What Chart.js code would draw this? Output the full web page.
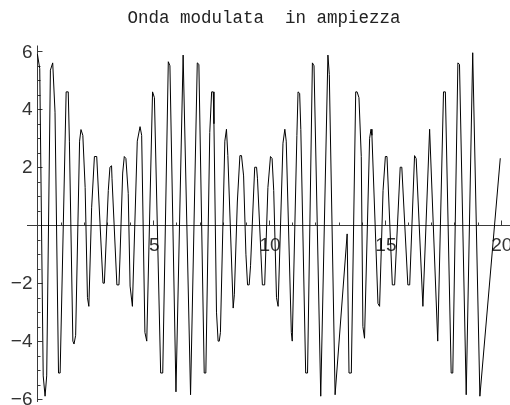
<!DOCTYPE html>
<html>
<head>
<meta charset="utf-8">
<script src="https://cdn.jsdelivr.net/npm/chart.js@4/dist/chart.umd.min.js"></script>
<style>
html,body{margin:0;padding:0;background:#fff;}
#wrap{width:510px;height:405px;}
</style>
</head>
<body>
<div id="wrap"><canvas id="c" width="510" height="405"></canvas></div>
<script>
const titleText = "Onda modulata  in ampiezza";
const xTickLabels = [5, 10, 15, 20];
const yTickLabels = [-6, -4, -2, 2, 4, 6];

const tValues = [
  0, 0.1, 0.25, 0.33, 0.4, 0.56, 0.66, 0.76, 0.91, 0.98,
  1.24, 1.33, 1.38, 1.53, 1.58, 1.65, 1.82, 1.88, 1.96, 2.06,
  2.16, 2.22, 2.34, 2.46, 2.56, 2.78, 2.83, 2.89, 3.06, 3.13,
  3.2, 3.22, 3.43, 3.52, 3.56, 3.68, 3.75, 3.82, 3.92, 4.0,
  4.1, 4.31, 4.43, 4.5, 4.64, 4.72, 4.97, 5.05, 5.32, 5.41,
  5.65, 5.72, 5.98, 6.29, 6.61, 6.9, 6.97, 7.2, 7.27, 7.44,
  7.52, 7.59, 7.62, 7.73, 7.8, 7.85, 7.9, 8.09, 8.16, 8.22,
  8.45, 8.5, 8.63, 8.74, 8.81, 8.9, 9.0, 9.07, 9.14, 9.2,
  9.38, 9.46, 9.5, 9.71, 9.81, 9.95, 10.06, 10.13, 10.2, 10.32,
  10.39, 10.6, 10.68, 10.74, 10.96, 11.0, 11.2, 11.25, 11.32, 11.37,
  11.58, 11.66, 11.87, 11.94, 12.23, 12.54, 12.6, 12.85, 13.37, 13.45,
  13.55, 13.74, 13.8, 13.88, 13.98, 14.05, 14.12, 14.34, 14.4, 14.44,
  14.7, 14.77, 14.92, 15.02, 15.09, 15.32, 15.42, 15.66, 15.73, 15.99,
  16.07, 16.28, 16.35, 16.64, 16.93, 17.28, 17.53, 17.61, 17.86, 17.93,
  18.15, 18.22, 18.51, 18.79, 19.1, 19.98
];
const waveValues = [
  5.9, 5.4, -5.2, -5.9, -5.2, 5.35, 5.6, 3.9, -5.1, -5.1,
  4.6, 4.6, 2.9, -4.0, -4.1, -3.8, 2.9, 3.3, 3.1, 1.3,
  -2.5, -2.8, 0.6, 2.37, 2.37, -1.2, -2.0, -2.0, 1.2, 2.0,
  2.05, 1.6, -2.06, -2.06, -1.2, 1.8, 2.37, 2.3, 1.1, -2.1,
  -2.8, 2.9, 3.4, 3.1, -3.7, -4.0, 4.6, 4.4, -5.1, -5.1,
  5.64, 5.5, -5.75, 5.87, -5.85, 5.6, 5.55, -5.1, -5.1, 3.2,
  4.6, 4.6, 3.5, -3.0, -4.0, -4.0, -3.7, 2.9, 3.31, 2.4,
  -2.86, -2.4, 0.8, 2.4, 2.4, 1.7, -1.0, -2.06, -2.06, -1.4,
  2.0, 2.0, 1.6, -2.06, -2.06, 1.3, 2.37, 2.3, 1.2, -2.5,
  -2.8, 2.83, 3.31, 2.9, -3.7, -4.0, 3.1, 4.6, 4.55, 3.3,
  -5.1, -5.1, 5.6, 5.5, -5.9, 5.87, 5.2, -5.85, -0.3, -5.1,
  -5.1, 4.6, 4.6, 4.4, 2.37, -3.5, -3.9, 3.0, 3.31, 3.1,
  -2.7, -2.8, 1.2, 2.37, 2.37, -2.06, -2.06, 2.0, 2.0, -2.06,
  -2.06, 2.4, 2.3, -2.8, 3.31, -4.0, 4.6, 4.6, -5.1, -5.1,
  5.6, 5.55, -5.85, 5.95, -5.9, 2.31
];

const points = tValues.map((t, i) => ({x: t, y: waveValues[i]}));

const axesPlugin = {
  id: 'mmaAxes',
  beforeDatasetsDraw(chart) {
    const ctx = chart.ctx;
    const xs = chart.scales.x, ys = chart.scales.y;
    const x0 = Math.round(xs.getPixelForValue(0)) + 0.5;
    const y0 = Math.round(ys.getPixelForValue(0)) + 0.5;
    ctx.save();
    ctx.strokeStyle = '#3a3a3a';
    ctx.lineWidth = 1;
    ctx.beginPath();
    ctx.moveTo(xs.left, y0); ctx.lineTo(xs.right, y0);
    ctx.moveTo(x0, ys.top); ctx.lineTo(x0, ys.bottom);
    for (let v = 1; v <= 20; v++) {
      const px = Math.round(xs.getPixelForValue(v)) + 0.5;
      const len = (v % 5 === 0) ? 5 : 3;
      ctx.moveTo(px, y0); ctx.lineTo(px, y0 - len);
    }
    for (let k = -12; k <= 12; k++) {
      const v = k / 2;
      if (k === 0) continue;
      const py = Math.round(ys.getPixelForValue(v)) + 0.5;
      const len = (k % 4 === 0) ? 5 : 3;
      ctx.moveTo(x0, py); ctx.lineTo(x0 + len, py);
    }
    ctx.stroke();

    ctx.fillStyle = '#333';
    ctx.font = '19px "Liberation Sans", Arial, sans-serif';
    ctx.textAlign = 'center';
    ctx.textBaseline = 'top';
    xTickLabels.forEach(v => {
      ctx.fillText(String(v), xs.getPixelForValue(v) + 1, y0 + 11);
    });
    ctx.textAlign = 'right';
    ctx.textBaseline = 'middle';
    yTickLabels.forEach(v => {
      const s = v < 0 ? '\u2212' + Math.abs(v) : String(v);
      ctx.fillText(s, x0 - 5, ys.getPixelForValue(v) + 1);
    });

    ctx.fillStyle = '#222';
    ctx.font = '17.5px "Liberation Mono", "Courier New", monospace';
    ctx.textAlign = 'center';
    ctx.textBaseline = 'alphabetic';
    ctx.fillText(titleText, 264, 23);
    ctx.restore();
  }
};

new Chart(document.getElementById('c'), {
  type: 'scatter',
  data: {
    datasets: [{
      data: points,
      showLine: true,
      borderColor: '#000',
      borderWidth: 1,
      pointRadius: 0,
      tension: 0,
      fill: false
    }]
  },
  options: {
    responsive: false,
    animation: false,
    devicePixelRatio: 1,
    layout: {padding: {left: 27, right: 0, top: 45.5, bottom: 3}},
    plugins: {legend: {display: false}, tooltip: {enabled: false}, title: {display: false}},
    scales: {
      x: {type: 'linear', min: -0.45, max: 20.4, display: false},
      y: {type: 'linear', min: -6.1, max: 6.2, display: false}
    },
    elements: {line: {borderJoinStyle: 'miter'}}
  },
  plugins: [axesPlugin]
});
</script>
</body>
</html>
